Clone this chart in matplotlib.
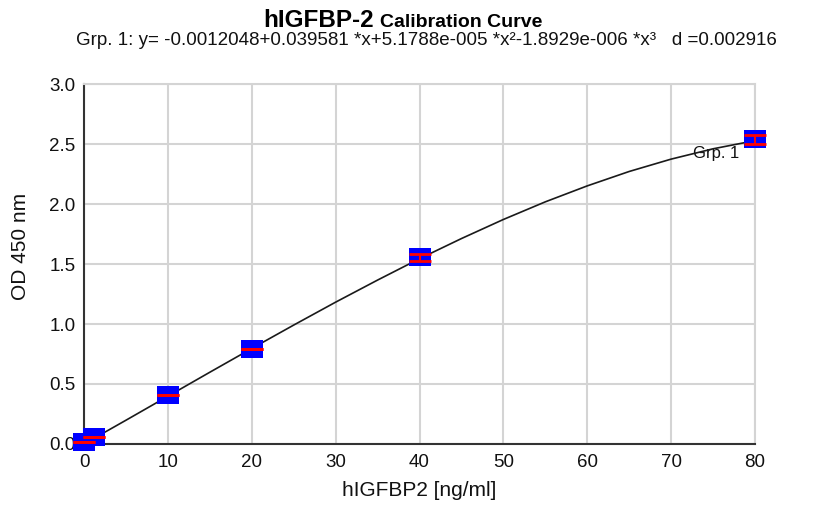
import matplotlib
matplotlib.use("Agg")
import matplotlib.pyplot as plt
from matplotlib.path import Path

plt.rcParams["font.family"] = ["Liberation Sans", "DejaVu Sans"]

# standards (concentration, mean OD, error)
conc = [0, 1.25, 10, 20, 40, 80]
od = [0.015, 0.055, 0.408, 0.790, 1.557, 2.538]
od_err = [0.0, 0.0, 0.0, 0.0, 0.028, 0.034]

# fitted curve
curve_x = [0, 5, 10, 15, 20, 25, 30, 35, 40, 45, 50, 55, 60, 65, 70, 75, 80]
curve_y = [0.0, 0.198, 0.398, 0.598, 0.796, 0.991, 1.182, 1.366, 1.544,
           1.712, 1.871, 2.018, 2.151, 2.271, 2.374, 2.460, 2.528]

x_ticks = [0, 10, 20, 30, 40, 50, 60, 70, 80]
y_ticks = [0.0, 0.5, 1.0, 1.5, 2.0, 2.5, 3.0]

W, H = 813, 507
fig = plt.figure(figsize=(W / 100, H / 100), dpi=100)
ax = fig.add_axes([84 / W, 1 - 444 / H, (755 - 84) / W, (444 - 84) / H])

grid_col = "#d4d4d4"
ax.grid(True, color=grid_col, linewidth=1.5, zorder=0)
ax.set_axisbelow(True)

ax.plot(curve_x, curve_y, color="#1a1a1a", linewidth=1.2, zorder=2, clip_on=False)

box = Path([(-11, -9), (11, -9), (11, 9), (-11, 9), (-11, -9)],
           [Path.MOVETO, Path.LINETO, Path.LINETO, Path.LINETO, Path.CLOSEPOLY])
ax.plot(conc, od, linestyle="none", marker=box, markersize=15.8,
        markerfacecolor="#0000ff", markeredgecolor="#0000ff", markeredgewidth=0,
        zorder=3, clip_on=False)
ax.errorbar(conc, od, yerr=od_err, fmt="none", ecolor="#ff0000", elinewidth=1.5,
            capsize=7.6, capthick=2.0, zorder=4, clip_on=False)

ax.text(72.6, 2.425, "Grp. 1", fontsize=12, ha="left", va="center", color="#111111", zorder=1)

ax.set_xlim(0, 80)
ax.set_ylim(0, 3.0)
ax.set_xticks(x_ticks)
ax.set_yticks(y_ticks)
ax.set_yticklabels([f"{v:.1f}" for v in y_ticks])
ax.tick_params(axis="both", length=0, labelsize=13.5, colors="#111111")
ax.tick_params(axis="x", pad=7)
ax.tick_params(axis="y", pad=6)

for side in ("top", "right"):
    ax.spines[side].set_color(grid_col)
    ax.spines[side].set_linewidth(1.5)
for side in ("left", "bottom"):
    ax.spines[side].set_color("#333333")
    ax.spines[side].set_linewidth(1.5)

ax.set_xlabel("hIGFBP2 [ng/ml]", fontsize=15, color="#111111", va="center")
ax.xaxis.set_label_coords(0.5, -0.13)
ax.set_ylabel("OD 450 nm", fontsize=15, color="#111111", va="center")
ax.yaxis.set_label_coords(-0.095, 0.55)

fig.text(374 / W, 1 - 27 / H, "hIGFBP-2", fontsize=17.5, fontweight="bold",
         ha="right", va="baseline")
fig.text(380 / W, 1 - 27 / H, "Calibration Curve", fontsize=14, fontweight="bold",
         ha="left", va="baseline")
fig.text(426 / W, 1 - 45 / H,
         "Grp. 1: y= -0.0012048+0.039581 *x+5.1788e-005 *x\u00b2-1.8929e-006 *x\u00b3   d =0.002916",
         fontsize=13.5, ha="center", va="baseline", color="#111111")

fig.savefig("out.png", dpi=100, facecolor="white")
